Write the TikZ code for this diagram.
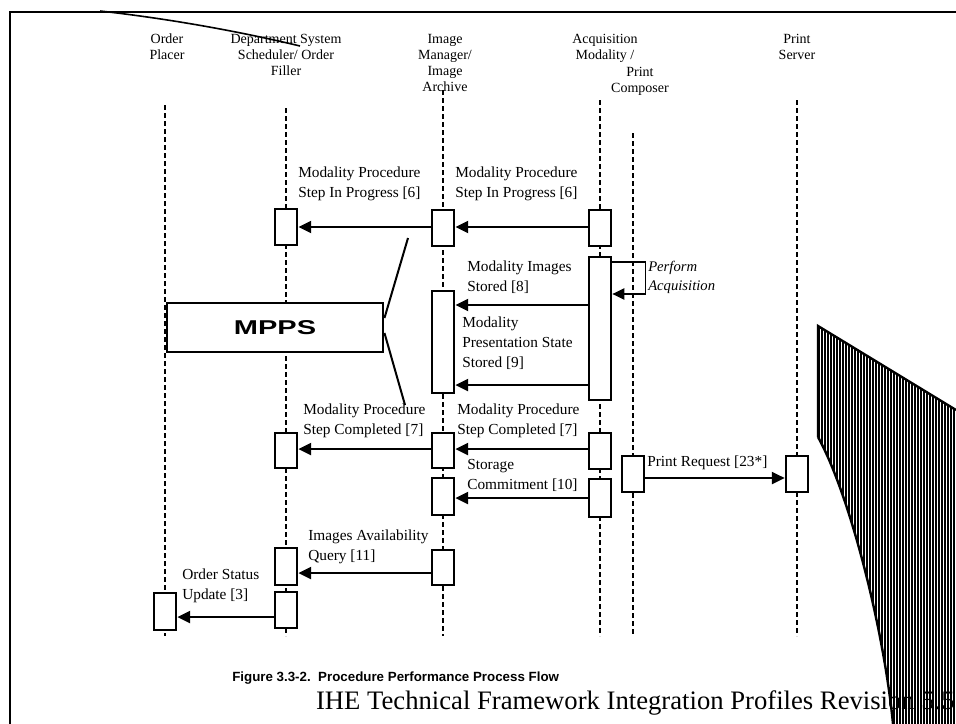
\documentclass[tikz,border=0pt]{standalone}
\usepackage{fontspec}
\setmainfont{Liberation Serif}
\newfontfamily\capfont{Liberation Sans}
\usetikzlibrary{arrows.meta}

\begin{document}
\begin{tikzpicture}[x=0.75pt,y=-0.75pt,
  every node/.style={font=\fontsize{11.5}{15}\selectfont,inner sep=0pt},
  hdr/.style={font=\fontsize{10.5}{12}\selectfont,align=center,anchor=north},
  lbl/.style={align=left,anchor=north west},
  lifeline/.style={line width=1.1pt,dash pattern=on 4pt off 2pt},
  actbox/.style={draw,fill=white,line width=1.6pt,minimum width=17pt},
  msg/.style={line width=1.5pt,-{Triangle[length=9.5pt,width=9pt]}}]
\useasboundingbox (0,0) rectangle (956,724);

% page frame
\draw[line width=2pt] (10,724) -- (10,12) -- (956,12);
\draw[line width=1.2pt] (100,11) .. controls (180,20) and (250,34) .. (300,46);

% actors
\node[hdr] (hop) at (167,34) {Order\\Placer};
\node[hdr] (hdss) at (286,34) {Department System\\Scheduler/ Order\\Filler};
\node[hdr] (him) at (445,34) {Image\\Manager/\\Image\\Archive};
\node[hdr] (ham) at (605,34) {Acquisition\\Modality /};
\node[hdr] (hpc) at (640,67) {Print\\Composer};
\node[hdr] (hps) at (797,34) {Print\\Server};

% lifelines
\foreach \n/\x/\t in {op/165/105,dss/286/108,im/443/90,am/600/100,pc/633/133,ps/797/100}{
  \coordinate (top\n) at (\x,\t);
  \coordinate (bot\n) at (\x,636);
  \draw[lifeline] (top\n) -- (bot\n);
}

% activation boxes: name/x/top/bottom
\foreach \n/\x/\t/\b in {%
  d1/286/209/245, i1/443/210/246, a1/600/210/246,
  a2/600/257/400, i2/443/291/393,
  d2/286/433/468, i3/443/433/468, a3/600/433/469,
  i4/443/478/515, a4/600/479/517,
  p1/633/456/492, s1/797/456/492,
  d3/286/548/585, i5/443/550/585,
  o1/165/593/630, d4/286/592/628}{
  \node[actbox,minimum height={(\b-\t)*0.75pt}] (\n) at (\x,{(\t+\b)/2}) {};
}

% messages
\draw[msg] (a1.west |- 0,227) -- (i1.east |- 0,227);
\draw[msg] (i1.west |- 0,227) -- (d1.east |- 0,227);
\draw[msg] (a2.west |- 0,305) -- (i2.east |- 0,305);
\draw[msg] (a2.west |- 0,385) -- (i2.east |- 0,385);
\draw[msg] (a3.west |- 0,449) -- (i3.east |- 0,449);
\draw[msg] (i3.west |- 0,449) -- (d2.east |- 0,449);
\draw[msg] (a4.west |- 0,498) -- (i4.east |- 0,498);
\draw[msg] (p1.east |- 0,478) -- (s1.west |- 0,478);
\draw[msg] (i5.west |- 0,573) -- (d3.east |- 0,573);
\draw[msg] (d4.west |- 0,617) -- (o1.east |- 0,617);
\draw[line width=1pt,-{Triangle[length=9pt,width=8.5pt]}] (a2.east |- 0,262) -- ++(33,0) |- (a2.east |- 0,294);

% message labels
\node[lbl] (l1) at (298,167) {Modality Procedure\\Step In Progress [6]};
\node[lbl] (l2) at (455,167) {Modality Procedure\\Step In Progress [6]};
\node[lbl] (l3) at (467,261) {Modality Images\\Stored [8]};
\node[lbl] (l4) at (462,317) {Modality\\Presentation State\\Stored [9]};
\node[lbl] (l5) at (303,404) {Modality Procedure\\Step Completed [7]};
\node[lbl] (l6) at (457,404) {Modality Procedure\\Step Completed [7]};
\node[lbl] (l7) at (467,459) {Storage\\Commitment [10]};
\node[lbl] (l8) at (647,456) {Print Request [23*]};
\node[lbl] (l9) at (308,530) {Images Availability\\Query [11]};
\node[lbl] (l10) at (182,569) {Order Status\\Update [3]};
\node[lbl,font=\fontsize{11}{14.25}\selectfont\itshape] (l11) at (648,261) {Perform\\Acquisition};

% MPPS bracket
\node[draw,fill=white,line width=2.2pt,minimum width=162pt,minimum height=36.75pt,
  font=\capfont\bfseries\fontsize{15}{15}\selectfont] (mpps) at (275,327.5) {\scalebox{1.45}[1]{MPPS}};
\coordinate (mppsup) at (408,238);
\coordinate (mppsdn) at (405,405);
\draw[line width=1.5pt] (mpps.east |- 0,318) -- (mppsup);
\draw[line width=1.5pt] (mpps.east |- 0,333) -- (mppsdn);

% curled page corner
\begin{scope}
\clip (818,326) -- (956,410) -- (956,724) -- (893,724) .. controls (884,630) and (850,495) .. (818,437) -- cycle;
\foreach \x in {819,822,...,956} \draw[line width=1.1pt] (\x,320) -- (\x,724);
\end{scope}
\draw[line width=1.8pt] (818,437) -- (818,326) -- (956,410);
\draw[line width=1.8pt] (818,437) .. controls (850,495) and (884,630) .. (893,724);

% caption and footer
\node[anchor=base west,font=\capfont\bfseries\fontsize{10}{12}\selectfont] (cap) at (232,681) {Figure 3.3-2.\ \ Procedure Performance Process Flow};
\node[anchor=base east,font=\fontsize{20}{24}\selectfont] (foot) at (955,709) {IHE Technical Framework Integration Profiles Revision 5.5};
\end{tikzpicture}
\end{document}
